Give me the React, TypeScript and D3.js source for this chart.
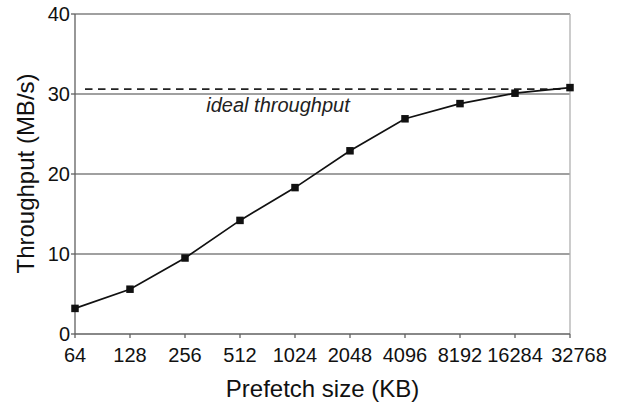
import React from "react";
import * as d3 from "d3";

const categories = ["64", "128", "256", "512", "1024", "2048", "4096", "8192", "16284", "32768"];
const throughput = [3.2, 5.6, 9.5, 14.2, 18.3, 22.9, 26.9, 28.8, 30.1, 30.8];
const yTicks = [0, 10, 20, 30, 40];
const idealThroughput = 30.6;

const W = 618;
const H = 402;
const margin = { left: 75, right: 48, top: 14, bottom: 68 };

export default function App() {
  const x = d3
    .scalePoint<string>()
    .domain(categories)
    .range([margin.left, W - margin.right]);
  const y = d3
    .scaleLinear()
    .domain([0, 40])
    .range([H - margin.bottom, margin.top]);
  const line = d3
    .line<number>()
    .x((_, i) => x(categories[i]) as number)
    .y((d) => y(d));
  const font = "'Liberation Sans', Arial, sans-serif";
  const x0 = margin.left;
  const x1 = W - margin.right;
  const yb = y(0);
  const last = categories[categories.length - 1];
  return (
    <svg
      width={W}
      height={H}
      style={{ position: "absolute", left: 0, top: 0, background: "#fff" }}
      fontFamily={font}
    >
      {yTicks.slice(1).map((t) => (
        <line key={t} x1={x0} x2={x1} y1={y(t)} y2={y(t)} stroke="#808080" strokeWidth={1.3} />
      ))}
      <line x1={x1} x2={x1} y1={y(40)} y2={yb} stroke="#b0b0b0" strokeWidth={1.3} />
      <line x1={x0} x2={x0} y1={y(40)} y2={yb} stroke="#606060" strokeWidth={1.3} />
      <line x1={x0} x2={x1} y1={yb} y2={yb} stroke="#606060" strokeWidth={1.3} />
      {yTicks.map((t) => (
        <g key={t}>
          <line x1={x0 - 4} x2={x0} y1={y(t)} y2={y(t)} stroke="#606060" strokeWidth={1.3} />
          <text x={x0 - 5} y={y(t)} dy="0.36em" textAnchor="end" fontSize={20} fill="#111">
            {t}
          </text>
        </g>
      ))}
      {categories.map((c) => (
        <g key={c}>
          <line x1={x(c)} x2={x(c)} y1={yb} y2={yb + 4} stroke="#606060" strokeWidth={1.3} />
          <text
            x={(x(c) as number) + (c === last ? 9 : 0)}
            y={yb + 27.5}
            textAnchor="middle"
            fontSize={20}
            fill="#111"
          >
            {c}
          </text>
        </g>
      ))}
      <line
        x1={x0 + 10}
        x2={x1 - 4}
        y1={y(idealThroughput)}
        y2={y(idealThroughput)}
        stroke="#222"
        strokeWidth={1.8}
        strokeDasharray="7.5,5.5"
      />
      <text x={278} y={111.5} textAnchor="middle" fontSize={20} fontStyle="italic" fill="#222">
        ideal throughput
      </text>
      <path d={line(throughput) || ""} fill="none" stroke="#111" strokeWidth={1.7} />
      {throughput.map((v, i) => (
        <rect
          key={i}
          x={(x(categories[i]) as number) - 3.75}
          y={y(v) - 3.75}
          width={7.5}
          height={7.5}
          fill="#111"
        />
      ))}
      <text x={322.5} y={397} textAnchor="middle" fontSize={24} fill="#111">
        Prefetch size (KB)
      </text>
      <text
        transform={`translate(34, 173.5) rotate(-90)`}
        textAnchor="middle"
        fontSize={24}
        fill="#111"
      >
        Throughput (MB/s)
      </text>
    </svg>
  );
}
